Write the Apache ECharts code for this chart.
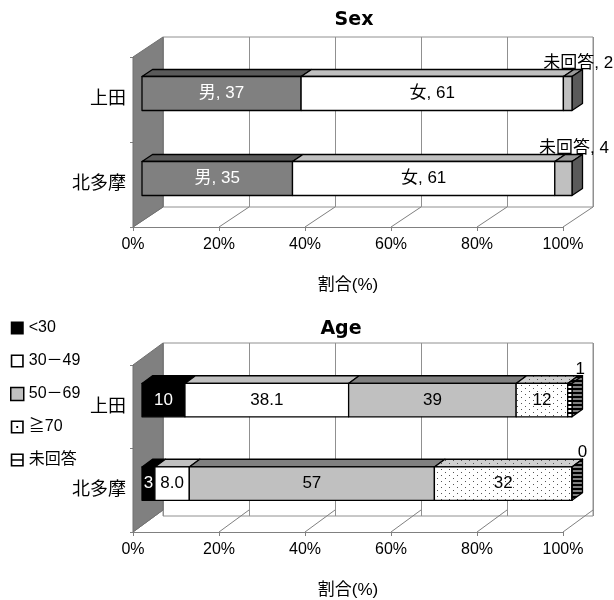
<!DOCTYPE html>
<html>
<head>
<meta charset="utf-8">
<script src="https://cdn.jsdelivr.net/npm/echarts@6/dist/echarts.min.js"></script>
<style>
  html, body { margin: 0; padding: 0; background: #fff; }
  #chart { width: 614px; height: 600px; }
</style>
</head>
<body>
<div id="chart"></div>
<script>
// ---- data ----
const categories = ['上田', '北多摩'];
const xTicks = [0, 20, 40, 60, 80, 100];

const sexNames = ['男', '女', '未回答'];
const sexMale = [37, 35];
const sexFemale = [61, 61];
const sexNoAnswer = [2, 4];

const ageNames = ['<30', '30－49', '50－69', '≧70', '未回答'];
const ageUnder30 = [10, 3];
const age30to49 = [38.1, 8.0];
const age50to69 = [39, 57];
const age70plus = [12, 32];
const ageNoAnswer = [1, 0];
const ageDecimals = [0, 1, 0, 0, 0];

// ---- layout ----
const FONT = "'Liberation Sans', 'Noto Sans CJK JP', sans-serif";
const panels = {
  sex: { front: { left: 133, top: 57, width: 430, height: 170 },
         back:  { left: 163, top: 37, width: 430, height: 170 } },
  age: { front: { left: 133, top: 365, width: 430, height: 173 },
         back:  { left: 163, top: 343, width: 430, height: 173 } }
};
function depthOf(p) { return [p.back.left - p.front.left, p.back.top - p.front.top]; }
const BAR_RATIO = 0.4;     // bar height / category band
const FRONT_DEPTH = 0.3;   // where the bar's front face sits inside the box
const BAR_DEPTH = 0.35;    // bar thickness as a share of the box depth

// ---- fill patterns ----
function makeTile(w, h, draw) {
  const c = document.createElement('canvas');
  c.width = w; c.height = h;
  draw(c.getContext('2d'));
  return { image: c, repeat: 'repeat' };
}
function dots(bg, fg) {
  return makeTile(8, 6, ctx => {
    ctx.fillStyle = bg; ctx.fillRect(0, 0, 8, 6);
    ctx.fillStyle = fg; ctx.fillRect(1, 1, 1, 1); ctx.fillRect(5, 4, 1, 1);
  });
}
function stripes(bg, fg) {
  return makeTile(4, 4, ctx => {
    ctx.fillStyle = bg; ctx.fillRect(0, 0, 4, 4);
    ctx.fillStyle = fg; ctx.fillRect(0, 0, 4, 2);
  });
}

// ---- stacking (100% per category) ----
function stackSegments(list) {
  const totals = categories.map((_, i) => list.reduce((s, arr) => s + arr[i], 0));
  const cum = categories.map(() => 0);
  return list.map(arr => arr.map((v, i) => {
    const s = cum[i] / totals[i] * 100;
    cum[i] += v;
    return [s, cum[i] / totals[i] * 100, i, v];
  }));
}

// ---- 3D box renderer ----
function boxRenderer(cfg) {
  return function (params, api) {
    const start = api.value(0), end = api.value(1), cat = api.value(2), val = api.value(3);
    const a = api.coord([start, cat]);
    const b = api.coord([end, cat]);
    const h = api.size([0, 1])[1] * BAR_RATIO;
    const [dx, dy] = cfg.depth;
    const fx = dx * FRONT_DEPTH, fy = dy * FRONT_DEPTH;
    const bx = dx * BAR_DEPTH, by = dy * BAR_DEPTH;
    const x0 = a[0] + fx, x1 = b[0] + fx;
    const yT = a[1] + fy - h / 2, yB = yT + h;
    const line = { stroke: '#000', lineWidth: 1.3, lineJoin: 'round' };
    const children = [];
    children.push({ type: 'polygon', shape: { points: [[x0, yT], [x1, yT], [x1 + bx, yT + by], [x0 + bx, yT + by]] },
                    style: Object.assign({ fill: cfg.top }, line) });
    if (cfg.last) {
      children.push({ type: 'polygon', shape: { points: [[x1, yT], [x1 + bx, yT + by], [x1 + bx, yB + by], [x1, yB]] },
                      style: Object.assign({ fill: cfg.side }, line) });
    }
    children.push({ type: 'rect', shape: { x: x0, y: yT, width: x1 - x0, height: h },
                    style: Object.assign({ fill: cfg.front }, line) });
    const txt = (cfg.prefix ? cfg.prefix + ', ' : '') + val.toFixed(cfg.decimals || 0);
    if (cfg.outside) {
      children.push({ type: 'text', style: { text: txt, x: (x0 + x1) / 2 + bx, y: yT + by + 2,
        align: 'center', verticalAlign: 'bottom', fill: '#000', font: cfg.font } });
    } else {
      children.push({ type: 'text', style: { text: txt, x: (x0 + x1) / 2, y: (yT + yB) / 2,
        align: 'center', verticalAlign: 'middle', fill: cfg.labelColor, font: cfg.font } });
    }
    return { type: 'group', children };
  };
}

// ---- box walls and floor ----
function frameRenderer(depth) {
  return function (params, api) {
    const cs = params.coordSys;
    const [dx, dy] = depth;
    const x = cs.x, y = cs.y, w = cs.width, h = cs.height;
    const children = [];
    xTicks.forEach(v => {
      const px = api.coord([v, 0])[0];
      children.push({ type: 'line', shape: { x1: px, y1: y + h, x2: px + dx, y2: y + h + dy },
                      style: { stroke: '#808080', lineWidth: 1 } });
    });
    children.push({ type: 'polygon', shape: { points: [[x, y], [x + dx, y + dy], [x + dx, y + h + dy], [x, y + h]] },
                    style: { fill: '#808080', stroke: '#707070', lineWidth: 1 } });
    return { type: 'group', children };
  };
}

// ---- axes ----
function backAxes(gridIndex) {
  return {
    x: { type: 'value', gridIndex, min: 0, max: 100, interval: 20,
         axisLine: { show: false }, axisTick: { show: false }, axisLabel: { show: false },
         splitLine: { show: true, lineStyle: { color: '#909090', width: 1 } } },
    y: { type: 'category', gridIndex, data: categories, inverse: true,
         axisLine: { show: false }, axisTick: { show: false }, axisLabel: { show: false }, splitLine: { show: false } }
  };
}
function frontAxes(gridIndex) {
  return {
    x: { type: 'value', gridIndex, min: 0, max: 100, interval: 20,
         axisLine: { show: true, lineStyle: { color: '#808080', width: 1 } },
         axisTick: { show: true, length: 4, lineStyle: { color: '#808080' } },
         axisLabel: { formatter: '{value}%', fontSize: 16, color: '#000', margin: 10, fontFamily: FONT },
         splitLine: { show: false },
         name: '割合(%)', nameLocation: 'middle', nameGap: 50,
         nameTextStyle: { fontSize: 17, color: '#000', fontFamily: FONT } },
    y: { type: 'category', gridIndex, data: categories, inverse: true,
         axisLine: { show: false },
         axisTick: { show: true, length: 3, lineStyle: { color: '#808080' } },
         axisLabel: { fontSize: 18, color: '#000', margin: 7, fontFamily: FONT },
         splitLine: { show: false } }
  };
}
const axSexBack = backAxes(0), axSexFront = frontAxes(1), axAgeBack = backAxes(2), axAgeFront = frontAxes(3);

// ---- series ----
const sexDepth = depthOf(panels.sex), ageDepth = depthOf(panels.age);
const sexSeg = stackSegments([sexMale, sexFemale, sexNoAnswer]);
const ageSeg = stackSegments([ageUnder30, age30to49, age50to69, age70plus, ageNoAnswer]);

const sexStyles = [
  { front: '#808080', top: '#5a5a5a', side: '#4a4a4a', labelColor: '#fff' },
  { front: '#ffffff', top: '#c0c0c0', side: '#a0a0a0', labelColor: '#000' },
  { front: '#c0c0c0', top: '#9a9a9a', side: '#5a5a5a', labelColor: '#000', outside: true }
];
const ageStyles = [
  { front: '#000000', top: '#000000', side: '#000000', labelColor: '#fff' },
  { front: '#ffffff', top: '#c0c0c0', side: '#a0a0a0', labelColor: '#000' },
  { front: '#c0c0c0', top: '#808080', side: '#707070', labelColor: '#000' },
  { front: dots('#ffffff', '#555555'), top: dots('#d0d0d0', '#555555'), side: dots('#b0b0b0', '#333'), labelColor: '#000' },
  { front: stripes('#ffffff', '#000000'), top: stripes('#808080', '#000000'), side: stripes('#808080', '#000000'), labelColor: '#000', outside: true }
];

const series = [
  { type: 'custom', name: 'frame-sex', xAxisIndex: 1, yAxisIndex: 1, z: 1, silent: true, clip: false,
    data: [[0, 0]], renderItem: frameRenderer(sexDepth) },
  { type: 'custom', name: 'frame-age', xAxisIndex: 3, yAxisIndex: 3, z: 1, silent: true, clip: false,
    data: [[0, 0]], renderItem: frameRenderer(ageDepth) }
];
sexNames.forEach((name, s) => {
  series.push({ type: 'custom', name, xAxisIndex: 1, yAxisIndex: 1, z: 3 + s, clip: false,
    encode: { x: [0, 1], y: 2 }, data: sexSeg[s],
    renderItem: boxRenderer(Object.assign({ depth: sexDepth, last: s === sexNames.length - 1,
      prefix: name, decimals: 0, font: '17px ' + FONT }, sexStyles[s])) });
});
ageNames.forEach((name, s) => {
  series.push({ type: 'custom', name, xAxisIndex: 3, yAxisIndex: 3, z: 3 + s, clip: false,
    encode: { x: [0, 1], y: 2 }, data: ageSeg[s],
    renderItem: boxRenderer(Object.assign({ depth: ageDepth, last: s === ageNames.length - 1,
      decimals: ageDecimals[s], font: '17px ' + FONT }, ageStyles[s])) });
});

// legend icons: square frame, frame with a dot, frame with a bar
const FRAME = 'path://M0 0H13V13H0Z M1.6 1.6V11.4H11.4V1.6Z';
const FRAME_DOT = FRAME + ' M5.6 5.6H7.4V7.4H5.6Z';
const FRAME_BAR = FRAME + ' M1.6 5.8H11.4V7.2H1.6Z';

const option = {
  backgroundColor: '#fff',
  animation: false,
  title: [
    { text: 'Sex', left: 349, top: 6, textAlign: 'center',
      textStyle: { fontSize: 19, fontWeight: 'bold', color: '#000', fontFamily: 'DejaVu Sans' } },
    { text: 'Age', left: 336, top: 315, textAlign: 'center',
      textStyle: { fontSize: 19, fontWeight: 'bold', color: '#000', fontFamily: 'DejaVu Sans' } }
  ],
  legend: {
    orient: 'vertical', left: 10, top: 320, padding: 0, itemGap: 17,
    itemWidth: 13, itemHeight: 13, selectedMode: false,
    textStyle: { fontSize: 16, color: '#000', fontFamily: FONT },
    data: [
      { name: ageNames[0], icon: 'rect', itemStyle: { color: '#000', borderWidth: 0 } },
      { name: ageNames[1], icon: FRAME, itemStyle: { color: '#000', borderWidth: 0 } },
      { name: ageNames[2], icon: 'rect', itemStyle: { color: '#c0c0c0', borderColor: '#000', borderWidth: 1.5 } },
      { name: ageNames[3], icon: FRAME_DOT, itemStyle: { color: '#000', borderWidth: 0 } },
      { name: ageNames[4], icon: FRAME_BAR, itemStyle: { color: '#000', borderWidth: 0 } }
    ]
  },
  grid: [
    Object.assign({ show: true, backgroundColor: '#fff', borderColor: '#909090', borderWidth: 1 }, panels.sex.back),
    Object.assign({ show: false }, panels.sex.front),
    Object.assign({ show: true, backgroundColor: '#fff', borderColor: '#909090', borderWidth: 1 }, panels.age.back),
    Object.assign({ show: false }, panels.age.front)
  ],
  xAxis: [axSexBack.x, axSexFront.x, axAgeBack.x, axAgeFront.x],
  yAxis: [axSexBack.y, axSexFront.y, axAgeBack.y, axAgeFront.y],
  series
};

const chart = echarts.init(document.getElementById('chart'), null, { renderer: 'canvas' });
chart.setOption(option);
</script>
</body>
</html>
